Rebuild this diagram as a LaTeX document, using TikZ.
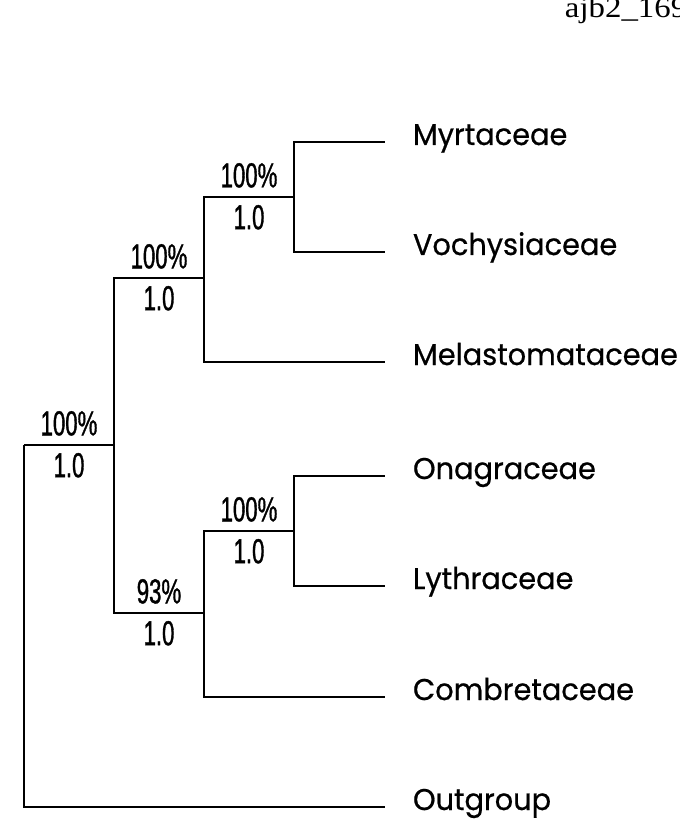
\documentclass[tikz,border=0pt]{standalone}
\usepackage{fontspec}
\newfontfamily\taxonfont[FakeStretch=0.96,FakeBold=0.6]{Poppins}
\newfontfamily\suppfont[FakeStretch=0.64,FakeBold=1]{Liberation Sans}
\newfontfamily\tagfont[FakeStretch=1.12]{Liberation Serif}
\usetikzlibrary{positioning}

\begin{document}
\begin{tikzpicture}[x=.75pt,y=-.75pt,line width=1.4pt,
    leaf/.style={anchor=west,inner xsep=21pt,inner ysep=0pt,outer sep=0pt,text height=.7em,text depth=.25em,
      font=\taxonfont\fontsize{22.5}{24}\selectfont},
    supp/.style={inner sep=0pt,outer sep=0pt,font=\suppfont\fontsize{26}{28}\selectfont}]
  \useasboundingbox (0,0) rectangle (680,837);
  \node[anchor=base west,inner sep=0pt,font=\tagfont\fontsize{22}{24}\selectfont] (tag) at (564,18) {ajb2\_169};
  % taxa
  \node[leaf] (myrt) at (385,142) {Myrtaceae};
  \node[leaf] (voch) at (385,252) {Vochysiaceae};
  \node[leaf] (mela) at (385,362) {Melastomataceae};
  \node[leaf] (onag) at (385,476) {Onagraceae};
  \node[leaf] (lyth) at (385,586) {Lythraceae};
  \node[leaf] (comb) at (385,697) {Combretaceae};
  \node[leaf] (outg) at (385,807) {Outgroup};
  % clades
  \coordinate (root) at (24,445);
  \coordinate (ingroup) at (114,445);
  \coordinate (myrtales) at (204,278);
  \coordinate (myrvoc) at (294,197);
  \coordinate (combclade) at (204,613);
  \coordinate (onalyt) at (294,531);
  \draw (root) -- (ingroup) node[supp,midway,above=7pt] {100\%} node[supp,midway,below=6pt] {1.0};
  \draw (root) |- (outg.west);
  \draw (ingroup) |- (myrtales) node[supp,pos=.75,above=7pt] {100\%} node[supp,pos=.75,below=6pt] {1.0};
  \draw (ingroup) |- (combclade) node[supp,pos=.75,above=7pt] {93\%} node[supp,pos=.75,below=6pt] {1.0};
  \draw (myrtales) |- (myrvoc) node[supp,pos=.75,above=7pt] {100\%} node[supp,pos=.75,below=6pt] {1.0};
  \draw (myrtales) |- (mela.west);
  \draw (myrvoc) |- (myrt.west);
  \draw (myrvoc) |- (voch.west);
  \draw (combclade) |- (onalyt) node[supp,pos=.75,above=7pt] {100\%} node[supp,pos=.75,below=6pt] {1.0};
  \draw (combclade) |- (comb.west);
  \draw (onalyt) |- (onag.west);
  \draw (onalyt) |- (lyth.west);
\end{tikzpicture}
\end{document}
